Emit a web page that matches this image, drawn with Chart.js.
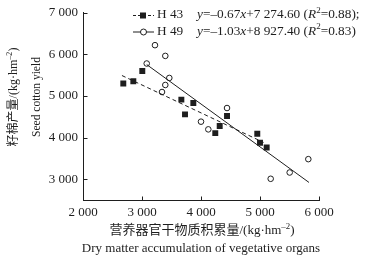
<!DOCTYPE html>
<html><head><meta charset="utf-8">
<script src="https://cdn.jsdelivr.net/npm/chart.js"></script>
<style>html,body{margin:0;padding:0;background:#fff;}#wrap{width:370px;height:262px;}</style>
</head><body><div id="wrap"><canvas id="c" width="370" height="262"></canvas></div>
<script>
// ---- data ----
const xTicks = [2000, 3000, 4000, 5000, 6000];
const yTicks = [3000, 4000, 5000, 6000, 7000];
const h43X = [2683, 2853, 3005, 3667, 3729, 3870, 4242, 4317, 4441, 4954, 5000, 5113];
const h43Y = [5299, 5354, 5602, 4913, 4559, 4831, 4108, 4277, 4518, 4094, 3877, 3764];
const h49X = [3080, 3220, 3395, 3463, 3395, 3339, 4000, 4124, 4441, 5181, 5503, 5819];
const h49Y = [5781, 6222, 5964, 5434, 5265, 5096, 4383, 4198, 4711, 3010, 3161, 3482];
const h43Fit = [-0.67, 7274.60];   // slope, intercept
const h49Fit = [-1.03, 8927.40];
const h43FitRange = [2660, 5060];
const h49FitRange = [3080, 5830];
const seriesNames = ['H 43', 'H 49'];
const equations = ['y=–0.67x+7 274.60 (R²=0.88);', 'y=–1.03x+8 927.40 (R²=0.83)'];
const xTitle = ['营养器官干物质积累量/(kg·hm⁻²)', 'Dry matter accumulation of vegetative organs'];
const yTitle = ['籽棉产量/(kg·hm⁻²)', 'Seed cotton yield'];

const FAM = "'Liberation Serif','Times New Roman','Noto Sans CJK SC',serif";
const INK = '#1e1e1e';
const fmt = v => String(v).replace(/\B(?=(\d{3})+(?!\d))/g, ' ');
const pts = (xs, ys) => xs.map((x, i) => ({x, y: ys[i]}));
const fitPts = (f, r) => r.map(x => ({x, y: f[0] * x + f[1]}));

// split a string into styled runs: italic y/x/R, superscripts
function runsOf(s) {
  const runs = [];
  let i = 0;
  const isVar = j => {
    const c = s[j], p = s[j-1] || '';
    if (c !== 'y' && c !== 'x' && c !== 'R') return false;
    return j === 0 || /[=+(]/.test(p) || (c === 'x' && /\d/.test(p));
  };
  while (i < s.length) {
    const ch = s[i];
    if (isVar(i)) { runs.push({t: ch, it: true}); i++; continue; }
    if (ch === '²') { runs.push({t: '2', sup: true}); i++; continue; }
    if (ch === '⁻') { runs.push({t: '–', sup: true}); i++; continue; }
    let j = i, t = '';
    while (j < s.length) {
      const c = s[j];
      if (c === '²' || c === '⁻' || isVar(j)) break;
      t += c; j++;
    }
    if (t) runs.push({t});
    i = j === i ? i + 1 : j;
  }
  return runs;
}
function fontFor(r, size) {
  const sz = r.sup ? size * 0.68 : size;
  return (r.it ? 'italic ' : '') + sz + 'px ' + FAM;
}
function runsWidth(ctx, runs, size) {
  let w = 0;
  for (const r of runs) { ctx.font = fontFor(r, size); w += ctx.measureText(r.t).width; }
  return w;
}
function drawRuns(ctx, runs, x, y, size, align) {
  let cx = align === 'center' ? x - runsWidth(ctx, runs, size) / 2 : x;
  ctx.textAlign = 'left';
  ctx.textBaseline = 'middle';
  for (const r of runs) {
    ctx.font = fontFor(r, size);
    ctx.fillText(r.t, cx, r.sup ? y - size * 0.33 : y);
    cx += ctx.measureText(r.t).width;
  }
}

const decor = {
  id: 'decor',
  afterDraw(chart) {
    const ctx = chart.ctx;
    const xs = chart.scales.x, ys = chart.scales.y;
    ctx.save();
    ctx.strokeStyle = INK; ctx.fillStyle = INK; ctx.lineWidth = 1;
    // inward ticks
    const yb = Math.round(ys.getPixelForValue(ys.min)) + 0.5;
    const xl = Math.round(xs.getPixelForValue(xs.min)) + 0.5;
    ctx.beginPath();
    xTicks.forEach(v => {
      const px = Math.round(xs.getPixelForValue(v)) + 0.5;
      ctx.moveTo(px, yb); ctx.lineTo(px, yb - 4);
    });
    yTicks.forEach(v => {
      const py = Math.round(ys.getPixelForValue(v)) + 0.5;
      ctx.moveTo(xl, py); ctx.lineTo(xl + 4, py);
    });
    ctx.stroke();
    // axis titles
    drawRuns(ctx, runsOf(xTitle[0]), 202, 230.5, 13, 'center');
    drawRuns(ctx, runsOf(xTitle[1]), 201, 248.5, 13, 'center');
    ctx.save(); ctx.translate(14, 97); ctx.rotate(-Math.PI / 2);
    drawRuns(ctx, runsOf(yTitle[0]), 0, 0, 12, 'center'); ctx.restore();
    ctx.save(); ctx.translate(37, 97); ctx.rotate(-Math.PI / 2);
    drawRuns(ctx, runsOf(yTitle[1]), 0, 0, 11.5, 'center'); ctx.restore();
    // legend
    const rows = [15, 31.5];
    rows.forEach((ly, k) => {
      ctx.beginPath();
      ctx.setLineDash(k === 0 ? [3, 2] : []);
      ctx.moveTo(133, ly + 0.5); ctx.lineTo(154, ly + 0.5); ctx.stroke();
      ctx.setLineDash([]);
      if (k === 0) { ctx.fillRect(140, ly - 2.5, 6, 6); }
      else { ctx.beginPath(); ctx.arc(143.5, ly + 0.5, 3, 0, Math.PI * 2); ctx.fillStyle = '#fff'; ctx.fill(); ctx.stroke(); ctx.fillStyle = INK; }
      drawRuns(ctx, [{t: seriesNames[k]}], 157, ly, 13.3, 'left');
      drawRuns(ctx, runsOf(equations[k]), 197, ly, 13.3, 'left');
    });
    ctx.restore();
  }
};

new Chart(document.getElementById('c'), {
  type: 'scatter',
  data: {
    datasets: [
      {label: 'H 43 fit', data: fitPts(h43Fit, h43FitRange), showLine: true, borderColor: INK, borderWidth: 1, borderDash: [4, 3], pointRadius: 0, fill: false},
      {label: 'H 49 fit', data: fitPts(h49Fit, h49FitRange), showLine: true, borderColor: INK, borderWidth: 1, pointRadius: 0, fill: false},
      {label: seriesNames[0], data: pts(h43X, h43Y), pointStyle: 'rect', pointRadius: 4.2, backgroundColor: INK, borderColor: INK, borderWidth: 0},
      {label: seriesNames[1], data: pts(h49X, h49Y), pointStyle: 'circle', pointRadius: 2.8, backgroundColor: '#fff', borderColor: INK, borderWidth: 1}
    ]
  },
  options: {
    responsive: false, animation: false, devicePixelRatio: 1,
    layout: {padding: {top: 12, right: 51, left: 0, bottom: 0}},
    plugins: {legend: {display: false}, tooltip: {enabled: false}},
    scales: {
      x: {
        type: 'linear', min: 2000, max: 6000,
        afterFit: s => { s.height = 62; },
        afterBuildTicks: s => { s.ticks = xTicks.map(v => ({value: v})); },
        grid: {display: false, drawTicks: false, tickLength: 0},
        border: {display: true, color: INK, width: 1},
        ticks: {padding: 5, color: INK, font: {family: FAM, size: 13}, maxRotation: 0, callback: v => fmt(v)}
      },
      y: {
        type: 'linear', min: 2500, max: 7000,
        afterFit: s => { s.width = 83; },
        afterBuildTicks: s => { s.ticks = yTicks.map(v => ({value: v})); },
        grid: {display: false, drawTicks: false, tickLength: 0},
        border: {display: true, color: INK, width: 1},
        ticks: {padding: 5, color: INK, font: {family: FAM, size: 13}, callback: v => fmt(v)}
      }
    }
  },
  plugins: [decor]
});
</script></body></html>
